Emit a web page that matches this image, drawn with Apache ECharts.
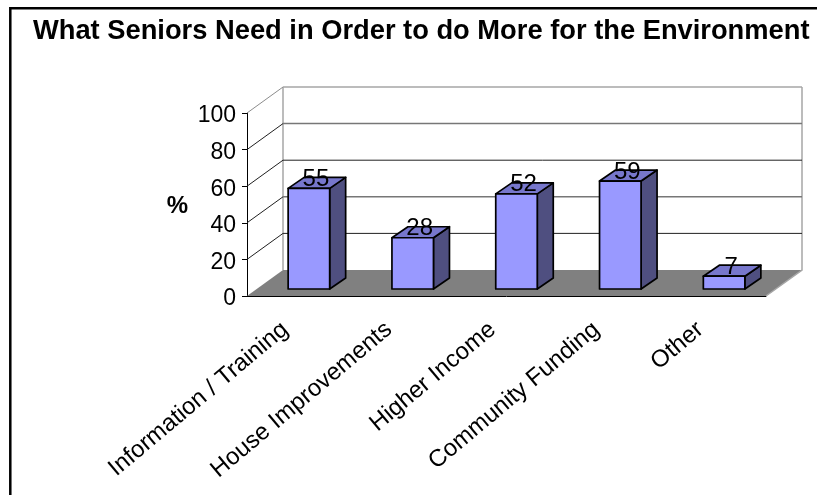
<!DOCTYPE html>
<html>
<head>
<meta charset="utf-8">
<style>html,body{margin:0;padding:0;background:#fff}#chart{width:817px;height:495px}</style>
<script src="https://cdn.jsdelivr.net/npm/echarts@6/dist/echarts.min.js"></script>
</head>
<body>
<div id="chart"></div>
<script>
// Survey results: what seniors say they need to do more for the environment
const titleText = 'What Seniors Need in Order to do More for the Environment';
const categories = ['Information / Training', 'House Improvements', 'Higher Income', 'Community Funding', 'Other'];
const percentValues = [55, 28, 52, 59, 7];
const yTicks = [0, 20, 40, 60, 80, 100];

// Pseudo-3D projection, in pixels
const WALL_DX = 36, WALL_DY = -26;      // front plane to back wall
const BAR_DX = 10, BAR_DY = -7;         // front plane to bar front face
const BOX_DX = 16, BOX_DY = -11;        // bar depth
const FONT = '"Liberation Sans", Arial, sans-serif';

// Back wall, side wall and gridlines, one item per y tick
function renderWallLine(params, api) {
  const g = params.coordSys;
  const y = api.coord([0, api.value(0)])[1];
  const v = api.value(0);
  const dark = v === 60 || v === 20;
  const back = v === 100 ? '#a6a6a6' : (dark ? '#202020' : '#777777');
  const side = v === 100 ? '#8c8c8c' : '#202020';
  const children = [];
  if (v > 0) {
    children.push({
      type: 'line',
      shape: {x1: g.x, y1: y, x2: g.x + WALL_DX, y2: y + WALL_DY},
      style: {stroke: side, lineWidth: 1}
    }, {
      type: 'line',
      shape: {x1: g.x + WALL_DX, y1: y + WALL_DY, x2: g.x + g.width + WALL_DX, y2: y + WALL_DY},
      style: {stroke: back, lineWidth: dark ? 1 : 1.5}
    });
  }
  return {type: 'group', children};
}

// Floor and the two vertical edges of the back wall
function renderFloor(params, api) {
  const g = params.coordSys;
  const y0 = g.y + g.height, yTop = g.y;
  return {
    type: 'group',
    children: [{
      type: 'polygon',
      shape: {points: [[g.x, y0], [g.x + WALL_DX, y0 + WALL_DY], [g.x + g.width + WALL_DX, y0 + WALL_DY], [g.x + g.width, y0]]},
      style: {fill: '#808080'}
    }, {
      type: 'polyline',
      shape: {points: [[g.x + WALL_DX, y0 + WALL_DY], [g.x + WALL_DX, yTop + WALL_DY]]},
      style: {stroke: '#a6a6a6', fill: 'none', lineWidth: 1.5}
    }, {
      type: 'polyline',
      shape: {points: [[g.x + g.width, y0], [g.x + g.width + WALL_DX, y0 + WALL_DY], [g.x + g.width + WALL_DX, yTop + WALL_DY]]},
      style: {stroke: '#a6a6a6', fill: 'none', lineWidth: 1.5}
    }]
  };
}

// A bar drawn as a box with front, top and side faces plus its value label
function renderBox(params, api) {
  const idx = api.value(0), val = api.value(1);
  const base = api.coord([idx, 0]);
  const top = api.coord([idx, val]);
  const w = api.size([1, 0])[0] * 0.4;
  const l = base[0] + BAR_DX - w / 2, r = l + w;
  const b = base[1] + BAR_DY, t = top[1] + BAR_DY;
  const edge = {stroke: '#000', lineWidth: 1.7, lineJoin: 'round'};
  return {
    type: 'group',
    children: [{
      type: 'polygon',
      shape: {points: [[r, t], [r + BOX_DX, t + BOX_DY], [r + BOX_DX, b + BOX_DY], [r, b]]},
      style: Object.assign({fill: '#4f4f80'}, edge)
    }, {
      type: 'polygon',
      shape: {points: [[l, t], [l + BOX_DX, t + BOX_DY], [r + BOX_DX, t + BOX_DY], [r, t]]},
      style: Object.assign({fill: '#7777cc'}, edge)
    }, {
      type: 'rect',
      shape: {x: l, y: t, width: w, height: b - t},
      style: Object.assign({fill: '#9999ff'}, edge)
    }, {
      type: 'text',
      style: {
        text: String(val), x: (l + r) / 2 + 7, y: t - 9,
        align: 'center', verticalAlign: 'middle',
        font: '24px ' + FONT, fill: '#000'
      }
    }]
  };
}

const chart = echarts.init(document.getElementById('chart'), null, {renderer: 'canvas'});
chart.setOption({
  animation: false,
  backgroundColor: '#fff',
  title: {
    text: titleText, left: 28, top: 13,
    textStyle: {fontFamily: FONT, fontWeight: 'bold', fontSize: 27.3, color: '#000'}
  },
  graphic: [{
    type: 'polyline', silent: true,
    shape: {points: [[10.3, 495], [10.3, 8.3], [817, 8.3]]},
    style: {stroke: '#000', fill: 'none', lineWidth: 2.5}
  }],
  grid: {left: 247, top: 113, width: 519, height: 183, containLabel: false},
  xAxis: {
    type: 'category', data: categories,
    axisLine: {lineStyle: {color: '#000', width: 1}},
    axisTick: {length: 5, lineStyle: {color: '#000'}},
    axisLabel: {rotate: 40, margin: 19, padding: [0, 18, 0, 0], interval: 0, fontFamily: FONT, fontSize: 24, color: '#000'},
    splitLine: {show: false}
  },
  yAxis: {
    type: 'value', min: 0, max: 100, interval: 20,
    name: '%', nameLocation: 'middle', nameRotate: 0, nameGap: 59,
    nameTextStyle: {fontFamily: FONT, fontWeight: 'bold', fontSize: 24, color: '#000', verticalAlign: 'top', lineHeight: 4},
    axisLine: {show: true, lineStyle: {color: '#000', width: 1}},
    axisTick: {show: true, length: 5, lineStyle: {color: '#000'}},
    axisLabel: {margin: 11, verticalAlign: 'top', lineHeight: 6, fontFamily: FONT, fontSize: 23, color: '#000'},
    splitLine: {show: false}
  },
  series: [
    {type: 'custom', coordinateSystem: 'cartesian2d', data: [[0]], renderItem: renderFloor, silent: true, z: 1, encode: {y: 0}},
    {type: 'custom', coordinateSystem: 'cartesian2d', data: yTicks.map(v => [v]), renderItem: renderWallLine, silent: true, z: 2, encode: {y: 0}, clip: false},
    {type: 'custom', coordinateSystem: 'cartesian2d', data: percentValues.map((v, i) => [i, v]), renderItem: renderBox, silent: true, z: 3, encode: {x: 0, y: 1}, clip: false}
  ]
});
</script>
</body>
</html>
